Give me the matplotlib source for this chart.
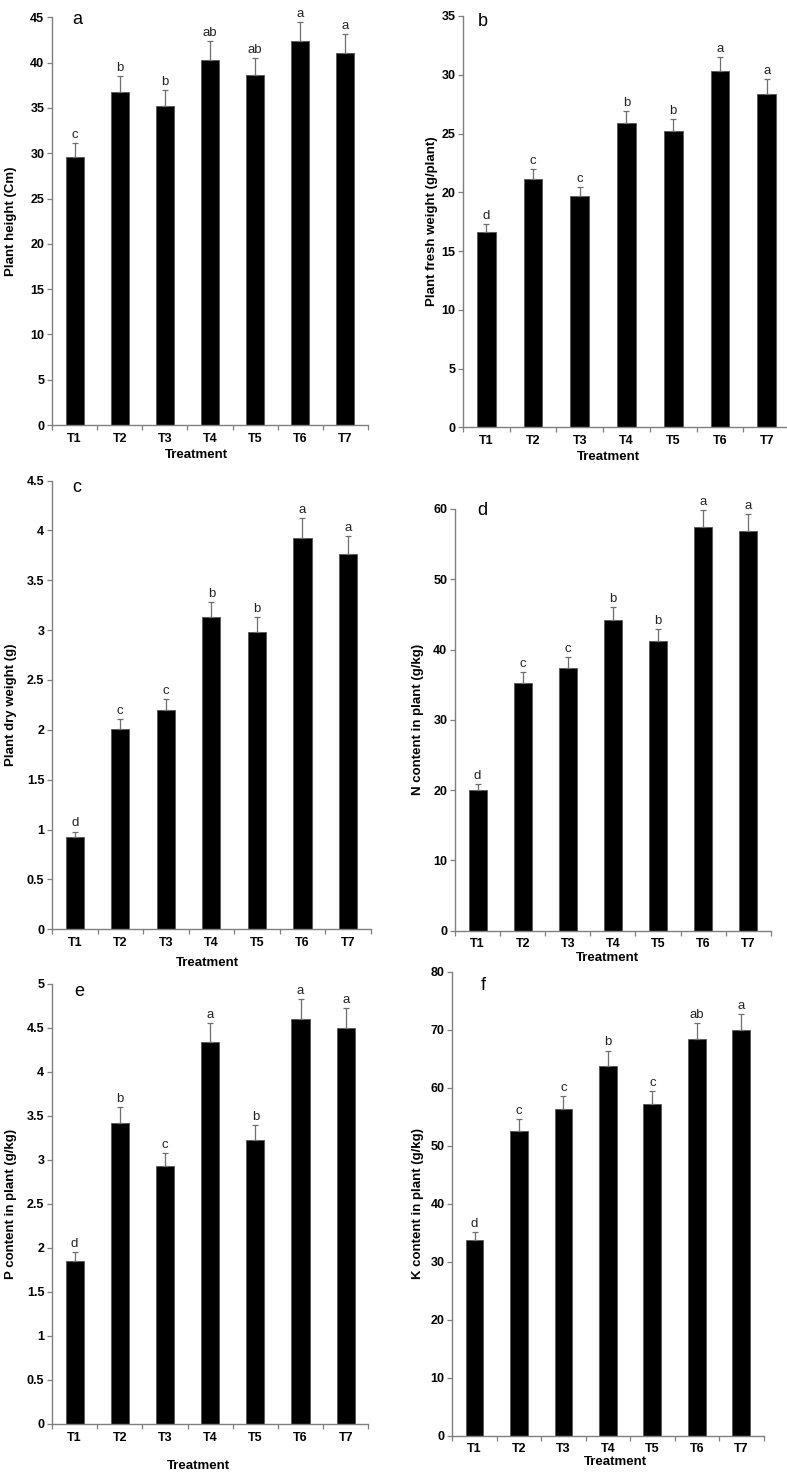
import matplotlib
matplotlib.use("Agg")
import matplotlib.pyplot as plt
from matplotlib.ticker import FixedLocator, FuncFormatter
import numpy as np

plt.rcParams['font.family'] = ['Liberation Sans', 'DejaVu Sans']

treatments = ["T1", "T2", "T3", "T4", "T5", "T6", "T7"]

height = [29.6, 36.7, 35.2, 40.3, 38.6, 42.4, 41.1]
height_err = [1.5, 1.8, 1.8, 2.05, 1.9, 2.1, 2.05]
height_sig = ["c", "b", "b", "ab", "ab", "a", "a"]

fresh = [16.6, 21.1, 19.7, 25.9, 25.2, 30.3, 28.4]
fresh_err = [0.68, 0.9, 0.75, 1.0, 1.0, 1.2, 1.2]
fresh_sig = ["d", "c", "c", "b", "b", "a", "a"]

dry = [0.93, 2.01, 2.2, 3.13, 2.98, 3.92, 3.76]
dry_err = [0.05, 0.1, 0.11, 0.15, 0.15, 0.2, 0.18]
dry_sig = ["d", "c", "c", "b", "b", "a", "a"]

nitrogen = [20.0, 35.3, 37.4, 44.2, 41.2, 57.4, 56.9]
nitrogen_err = [0.85, 1.45, 1.5, 1.8, 1.65, 2.4, 2.4]
nitrogen_sig = ["d", "c", "c", "b", "b", "a", "a"]

phosphorus = [1.85, 3.42, 2.93, 4.34, 3.23, 4.6, 4.5]
phosphorus_err = [0.1, 0.18, 0.15, 0.22, 0.17, 0.23, 0.23]
phosphorus_sig = ["d", "b", "c", "a", "b", "a", "a"]

potassium = [33.7, 52.5, 56.3, 63.8, 57.2, 68.4, 70.0]
potassium_err = [1.4, 2.1, 2.2, 2.6, 2.2, 2.8, 2.7]
potassium_sig = ["d", "c", "c", "b", "c", "ab", "a"]

W, H = 787, 1481
fig = plt.figure(figsize=(W / 100, H / 100), dpi=100)

# panel specs: (letter, values, err, sig, ylabel, ymax, ystep,
#  left, right, top, bottom px, ylabel x px, xlabel y px, xlabel x px, letter xy px)
panels = [
    ("a", height, height_err, height_sig, "Plant height (Cm)", 45, 5,
     52, 368, 17.3, 425, 11, 455, 196, (77, 19)),
    ("b", fresh, fresh_err, fresh_sig, "Plant fresh weight (g/plant)", 35, 5,
     463, 790, 16, 427.3, 432, 457, 608, (483, 22)),
    ("c", dry, dry_err, dry_sig, "Plant dry weight (g)", 4.5, 0.5,
     52, 370.7, 480.5, 929.3, 11, 963, 207, (77, 487)),
    ("d", nitrogen, nitrogen_err, nitrogen_sig, "N content in plant (g/kg)", 60, 10,
     455, 770.7, 508.9, 930.7, 418, 958, 607, (482, 511)),
    ("e", phosphorus, phosphorus_err, phosphorus_sig, "P content in plant (g/kg)", 5, 0.5,
     52, 368.3, 984, 1424, 11, 1466, 198, (79, 992)),
    ("f", potassium, potassium_err, potassium_sig, "K content in plant (g/kg)", 80, 10,
     452.3, 763.5, 971.7, 1435.7, 418, 1462, 615, (483, 985)),
]

spine_col = "#7f7f7f"
x = np.arange(len(treatments))

for (lab, vals, errs, sig, ylab, ymax, ystep, l, r, t, b,
     ylx, xly, xlx, lxy) in panels:
    ax = fig.add_axes([l / W, 1 - b / H, (r - l) / W, (b - t) / H])
    ax.bar(x, vals, width=0.4, color="black", edgecolor="#555555", linewidth=0.6, zorder=2)
    ax.errorbar(x, vals, yerr=[np.zeros(len(vals)), errs], fmt="none",
                ecolor="#6e6e6e", elinewidth=0.9, capsize=2.2, capthick=0.9, zorder=3)
    for xi, v, e, s in zip(x, vals, errs, sig):
        ax.annotate(s, (xi, v + e), xytext=(0, 1.5), textcoords="offset points",
                    ha="center", va="bottom", fontsize=9.5, color="#222222")
    ax.set_xlim(-0.5, len(treatments) - 0.5)
    ax.set_ylim(0, ymax)
    ticks = np.round(np.arange(0, ymax + ystep / 2, ystep), 3)
    ax.yaxis.set_major_locator(FixedLocator(ticks))
    ax.yaxis.set_major_formatter(FuncFormatter(lambda v, p: f"{v:g}"))
    ax.set_xticks(x)
    ax.set_xticklabels(treatments)
    ax.set_xticks(np.arange(-0.5, len(treatments)), minor=True)
    ax.tick_params(axis="x", which="major", length=0, pad=5.5, labelsize=9)
    ax.tick_params(axis="x", which="minor", length=3.5, width=0.9, color=spine_col)
    ax.tick_params(axis="y", which="major", length=3.5, width=0.9, color=spine_col,
                   pad=2, labelsize=9)
    for tl in ax.get_xticklabels() + ax.get_yticklabels():
        tl.set_fontweight("bold")
    for sp in ("top", "right"):
        ax.spines[sp].set_visible(False)
    for sp in ("left", "bottom"):
        ax.spines[sp].set_color(spine_col)
        ax.spines[sp].set_linewidth(1.0)
    fig.text(ylx / W, 1 - (t + b) / 2 / H, ylab, rotation=90, ha="center", va="center",
             fontsize=9.5, fontweight="bold")
    fig.text(xlx / W, 1 - xly / H, "Treatment", ha="center", va="center",
             fontsize=9.5, fontweight="bold")
    fig.text(lxy[0] / W, 1 - lxy[1] / H, lab, ha="center", va="center", fontsize=13)

fig.savefig("out.png", dpi=100)
